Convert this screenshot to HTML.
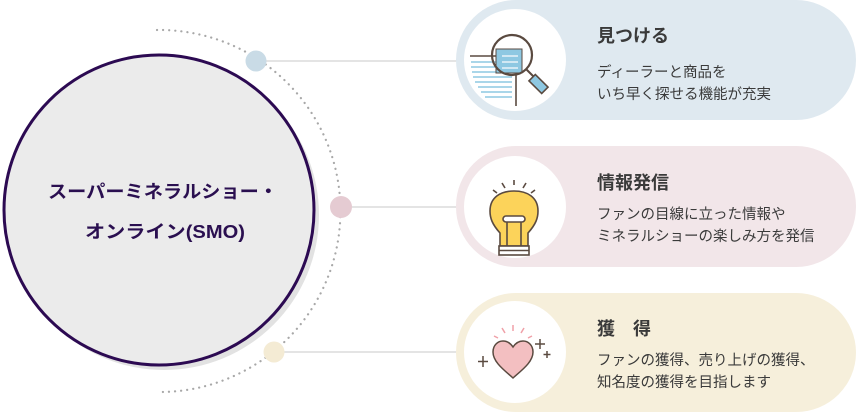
<!DOCTYPE html>
<html><head><meta charset="utf-8"><style>
html,body{margin:0;padding:0;background:#fff;}
svg{display:block;}
text{font-family:"Liberation Sans","Noto Sans CJK JP",sans-serif;}
</style></head><body>
<svg width="856" height="413" viewBox="0 0 856 413" xmlns="http://www.w3.org/2000/svg">
<path d="M157 30 A180 180 0 0 1 162 392" fill="none" stroke="#a8a8a8" stroke-width="2.2" stroke-dasharray="0.1 6" stroke-linecap="round"/>
<line x1="256" y1="61" x2="460" y2="61" stroke="#c8c8c8" stroke-width="1"/>
<line x1="341" y1="207" x2="460" y2="207" stroke="#c8c8c8" stroke-width="1"/>
<line x1="274" y1="352" x2="460" y2="352" stroke="#c8c8c8" stroke-width="1"/>
<circle cx="164" cy="215" r="155" fill="#e2e2e2"/>
<circle cx="159" cy="210" r="155" fill="#ebebeb" stroke="#2c0a52" stroke-width="3"/>
<text x="163" y="198" font-size="18" font-weight="bold" fill="#2a0f50" text-anchor="middle" textLength="230" lengthAdjust="spacingAndGlyphs">スーパーミネラルショー・</text>
<text x="165" y="238" font-size="18" font-weight="bold" fill="#2a0f50" text-anchor="middle" textLength="160" lengthAdjust="spacingAndGlyphs">オンライン(SMO)</text>
<circle cx="256" cy="61" r="10.5" fill="#c9dbe6"/>
<circle cx="341" cy="207" r="11" fill="#e5cbd2"/>
<circle cx="274" cy="352" r="10.5" fill="#f4ebd4"/>
<rect x="456" y="0" width="400" height="120" rx="60" fill="#dfe9f0"/>
<rect x="456" y="146" width="400" height="121" rx="60" fill="#f2e6e9"/>
<rect x="456" y="293" width="400" height="119" rx="60" fill="#f6efdb"/>
<circle cx="515" cy="60" r="51" fill="#fff"/>
<circle cx="515" cy="207" r="51" fill="#fff"/>
<circle cx="515" cy="352" r="51" fill="#fff"/>
<g stroke-width="1.6">
<line x1="470" y1="56" x2="512" y2="56" stroke="#5a4a40"/>
<g stroke="#8ec8e2"><line x1="471" y1="62" x2="512" y2="62"/><line x1="471" y1="67" x2="512" y2="67"/><line x1="472" y1="72" x2="512" y2="72"/><line x1="473" y1="77" x2="512" y2="77"/><line x1="475" y1="82" x2="512" y2="82"/><line x1="478" y1="87" x2="512" y2="87"/><line x1="481" y1="92" x2="512" y2="92"/><line x1="485" y1="97" x2="512" y2="97"/></g>
<line x1="516" y1="75" x2="516" y2="106" stroke="#5a4a40"/>
<path d="M496 49 H522 V73 H496 Z" fill="#8ec8e2" stroke="#5a4a40" stroke-width="1"/>
<g stroke="#fff" stroke-width="1.2"><line x1="502" y1="56" x2="518" y2="56"/><line x1="502" y1="62" x2="518" y2="62"/><line x1="502" y1="68" x2="518" y2="68"/></g>
<circle cx="512" cy="55" r="20" fill="none" stroke="#5a4a40" stroke-width="2.2"/>
<line x1="526" y1="69" x2="534" y2="77" stroke="#5a4a40" stroke-width="2"/>
<rect x="534" y="75" width="9" height="18" transform="rotate(-45 538.5 84)" fill="#8ec8e2" stroke="#5a4a40" stroke-width="1.6"/>
</g>
<g stroke="#5a4a40" stroke-width="1.6">
<line x1="514" y1="180" x2="514" y2="185"/><line x1="502" y1="183" x2="505" y2="188"/><line x1="526" y1="183" x2="523" y2="188"/><line x1="493" y1="190" x2="497" y2="193"/><line x1="535" y1="190" x2="531" y2="193"/>
<path d="M500 246 L500 233 C492 224 490 218 490 211 C490 197 501 191 514 191 C527 191 538 197 538 211 C538 218 536 224 528 233 L528 246 Z" fill="#fcd35a"/>
<rect x="503" y="216" width="22" height="6" rx="3" fill="#fff"/>
<line x1="507" y1="222" x2="507" y2="246"/><line x1="521" y1="222" x2="521" y2="246"/>
<rect x="499" y="246" width="30" height="9" fill="#fff"/>
<line x1="499" y1="250.5" x2="529" y2="250.5"/>
</g>
<g stroke-width="1.5">
<g stroke="#f0a0a8"><line x1="513" y1="325" x2="513" y2="331"/><line x1="502" y1="328" x2="505" y2="333"/><line x1="524" y1="328" x2="521" y2="333"/><line x1="494" y1="336" x2="498" y2="338"/><line x1="532" y1="336" x2="528" y2="338"/></g>
<path d="M513 378 C504 370 493 362 493 352 C493 345 498 341 503 341 C508 341 511 344 513 347 C515 344 518 341 523 341 C528 341 533 345 533 352 C533 362 522 370 513 378 Z" fill="#f3bfc1" stroke="#5a4a40"/>
<g stroke="#5a4a40"><line x1="483" y1="356" x2="483" y2="367"/><line x1="478" y1="361.5" x2="488" y2="361.5"/><line x1="540" y1="339" x2="540" y2="349"/><line x1="535" y1="344" x2="545" y2="344"/><line x1="547" y1="351" x2="547" y2="358"/><line x1="543.5" y1="354.5" x2="550.5" y2="354.5"/></g>
</g>
<g fill="#3a3a3a">
<text x="597" y="42" font-size="18" font-weight="bold">見つける</text>
<text x="597" y="77" font-size="14.5">ディーラーと商品を</text>
<text x="597" y="99" font-size="14.5">いち早く探せる機能が充実</text>
<text x="597" y="189" font-size="18" font-weight="bold">情報発信</text>
<text x="597" y="219" font-size="14.5">ファンの目線に立った情報や</text>
<text x="597" y="241" font-size="14.5">ミネラルショーの楽しみ方を発信</text>
<text x="597" y="335" font-size="18" font-weight="bold">獲　得</text>
<text x="597" y="365" font-size="14.5">ファンの獲得、売り上げの獲得、</text>
<text x="597" y="387" font-size="14.5">知名度の獲得を目指します</text>
</g>
</svg>
</body></html>
